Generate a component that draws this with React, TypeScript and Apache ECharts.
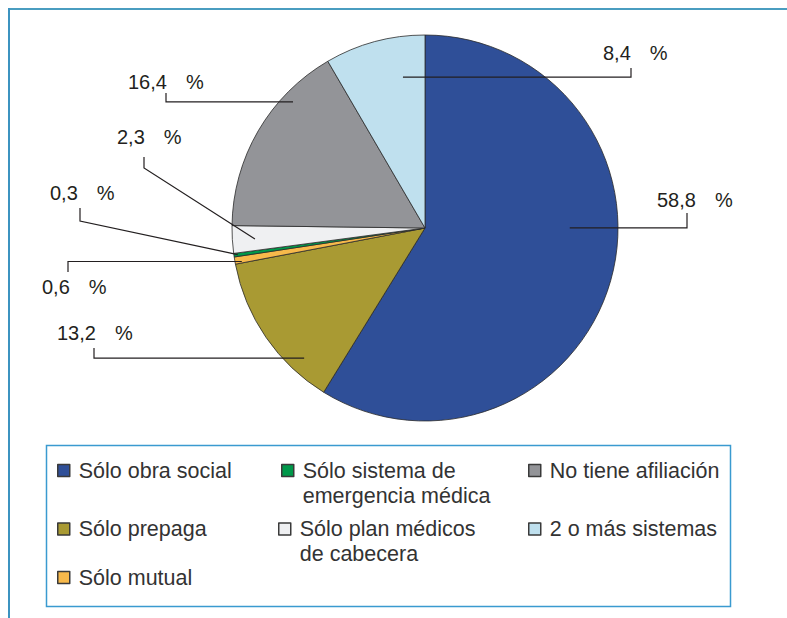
import React, { useEffect, useRef } from "react";
import * as echarts from "echarts";

const categories = [
  "Sólo obra social",
  "Sólo prepaga",
  "Sólo mutual",
  "Sólo sistema de emergencia médica",
  "Sólo plan médicos de cabecera",
  "No tiene afiliación",
  "2 o más sistemas",
];
const values = [58.8, 13.2, 0.6, 0.3, 2.3, 16.4, 8.4];
const legendLabels = [
  "Sólo obra social",
  "Sólo prepaga",
  "Sólo mutual",
  "\nSólo sistema de\nemergencia médica",
  "\nSólo plan médicos\nde cabecera",
  "No tiene afiliación",
  "2 o más sistemas",
];
const colors = ["#2f4f98", "#a99a33", "#f7b94b", "#00984a", "#eff0f2", "#939498", "#bfe0ee"];

const CX = 425;
const CY = 228;
const R = 193;
const FONT = '"Liberation Sans", Arial, Helvetica, sans-serif';
const TEXT = "#231f20";

// label layout: text anchor, leader tick, and start point inside slice (fraction of angle span / radius)
const labelPlacement = [
  { x: 657, y: 200, tickX: 687, elbowY: null, endY: 213, t: 0.425, rf: 0.75 },
  { x: 57, y: 333, tickX: 94, elbowY: null, endY: 348, t: 0.236, rf: 0.92 },
  { x: 42, y: 287, tickX: 68, elbowY: null, endY: 272, t: 0.2, rf: 0.965 },
  { x: 50, y: 193, tickX: 80, elbowY: 221, endY: 208, t: 0.5, rf: 0.98 },
  { x: 117, y: 137, tickX: 144, elbowY: 168, endY: 157, t: 0.466, rf: 0.883 },
  { x: 128, y: 82, tickX: 166, elbowY: null, endY: 93, t: 0.728, rf: 0.946 },
  { x: 603, y: 53, tickX: 631, elbowY: null, endY: 68, t: 0.725, rf: 0.79 },
];

const legendPlacement = [
  { left: 57, top: 458 },
  { left: 57, top: 516.5 },
  { left: 57, top: 565 },
  { left: 281, top: 433 },
  { left: 278, top: 491.5 },
  { left: 528, top: 458 },
  { left: 528, top: 516.5 },
];

const total = values.reduce((a, b) => a + b, 0);

function startPoint(i: number): [number, number] {
  let cum = 0;
  for (let k = 0; k < i; k++) cum += values[k];
  const p = labelPlacement[i];
  const theta = ((cum + p.t * values[i]) / total) * Math.PI * 2;
  const r = p.rf * R;
  return [CX + r * Math.sin(theta), CY - r * Math.cos(theta)];
}

export default function App() {
  const ref = useRef<HTMLDivElement>(null);
  useEffect(() => {
    if (!ref.current) return;
    const chart = echarts.init(ref.current, null, { renderer: "svg" });
    const pieData = categories.map((c, i) => ({
      name: c,
      value: values[i],
      itemStyle: { color: colors[i] },
    }));
    const option: any = {
      animation: false,
      backgroundColor: "#ffffff",
      textStyle: { fontFamily: FONT },
      legend: categories.map((c, i) => ({
        data: [{ name: c, itemStyle: { color: colors[i] } }],
        orient: "vertical",
        left: legendPlacement[i].left,
        top: legendPlacement[i].top,
        padding: 0,
        icon: "rect",
        itemWidth: 12,
        itemHeight: 12,
        itemGap: 0,
        selectedMode: false,
        itemStyle: { borderColor: "#3a3a3a", borderWidth: 1.5 },
        formatter: () => legendLabels[i],
        textStyle: {
          fontFamily: FONT,
          fontSize: 21.5,
          lineHeight: 25,
          color: "#333333",
          padding: [0, 0, 0, 4],
        },
      })),
      graphic: [
        {
          type: "line",
          shape: { x1: 8, y1: 9, x2: 787, y2: 9 },
          style: { stroke: "#4a9dc0", lineWidth: 2 },
        },
        {
          type: "line",
          shape: { x1: 9, y1: 8, x2: 9, y2: 618 },
          style: { stroke: "#3c93c0", lineWidth: 2 },
        },
        {
          type: "rect",
          shape: { x: 46.5, y: 445.5, width: 684, height: 161 },
          style: { fill: "none", stroke: "#3a9ad0", lineWidth: 1.5 },
        },
      ],
      series: [
        {
          type: "pie",
          z: 2,
          center: [CX, CY],
          radius: R,
          startAngle: 90,
          clockwise: true,
          data: pieData,
          itemStyle: { borderColor: "#2b2b2b", borderWidth: 0.8 },
          emphasis: { disabled: true },
          label: { show: false },
          labelLine: { show: false },
        },
        {
          type: "pie",
          z: 5,
          zlevel: 1,
          center: [CX, CY],
          radius: R,
          startAngle: 90,
          clockwise: true,
          silent: true,
          avoidLabelOverlap: false,
          data: pieData.map((d) => ({ ...d, itemStyle: { color: "rgba(0,0,0,0)" } })),
          itemStyle: { borderWidth: 0 },
          emphasis: { disabled: true },
          label: {
            show: true,
            position: "outside",
            formatter: (p: any) => `{n|${p.value.toFixed(1).replace(".", ",")}}{p|%}`,
            rich: {
              n: { fontFamily: FONT, fontSize: 20, color: TEXT },
              p: { fontFamily: FONT, fontSize: 20, color: TEXT, padding: [0, 0, 0, 19] },
            },
          },
          labelLine: {
            show: true,
            showAbove: true,
            length: 10,
            length2: 10,
            smooth: false,
            minTurnAngle: 0,
            maxSurfaceAngle: 180,
            lineStyle: { color: TEXT, width: 1.2 },
          },
          labelLayout: (params: any) => {
            const i = params.dataIndex;
            const p = labelPlacement[i];
            const s = startPoint(i);
            const ey = p.elbowY === null ? s[1] : p.elbowY;
            return {
              x: p.x,
              y: p.y,
              align: "left",
              verticalAlign: "middle",
              labelLinePoints: [s, [p.tickX, ey], [p.tickX, p.endY]],
            };
          },
        },
      ],
    };
    chart.setOption(option);
    return () => chart.dispose();
  }, []);
  return (
    <div
      ref={ref}
      style={{ position: "absolute", left: 0, top: 0, width: 787, height: 618 }}
    />
  );
}
